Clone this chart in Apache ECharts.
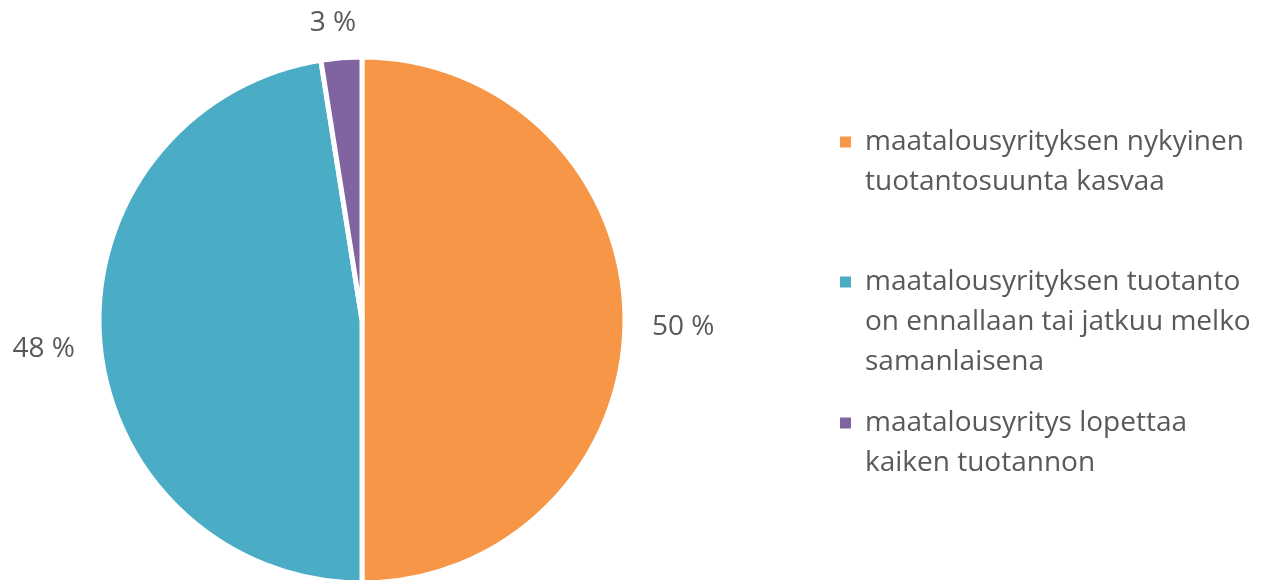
<!DOCTYPE html>
<html>
<head>
<meta charset="utf-8">
<script src="https://cdn.jsdelivr.net/npm/echarts@6/dist/echarts.min.js"></script>
<style>
  html, body { margin: 0; padding: 0; background: #fff; }
  #chart { width: 1274px; height: 580px; }
</style>
</head>
<body>
<div id="chart"></div>
<script>
// osuudet prosentteina
const categories = [
  "maatalousyrityksen nykyinen tuotantosuunta kasvaa",
  "maatalousyrityksen tuotanto on ennallaan tai jatkuu melko samanlaisena",
  "maatalousyritys lopettaa kaiken tuotannon"
];
const legendLines = [
  ["maatalousyrityksen nykyinen", "tuotantosuunta kasvaa"],
  ["maatalousyrityksen tuotanto", "on ennallaan tai jatkuu melko", "samanlaisena"],
  ["maatalousyritys lopettaa", "kaiken tuotannon"]
];
const values = [50, 47.5, 2.5];
const colors = ["#F79646", "#4BACC6", "#8064A2"];

const font = "'Open Sans', sans-serif";
const lineH = 40;
const legendTops = [122, 262, 403];
// pienet siirrot prosenttiteksteille
const labelNudge = [[0, 7], [2, 7], [29, -21]];

// neliö ensimmäisen rivin kohdalle, näkymättömät pisteet venyttävät laatikon koko tekstin korkuiseksi
function iconFor(n) {
  const h = lineH * n;
  const y = lineH / 2 - 5.5;
  return "path://M0,0h0.01M0," + y + "h11v11h-11zM0," + h + "h0.01";
}

const chart = echarts.init(document.getElementById("chart"));
chart.setOption({
  animation: false,
  color: colors,
  legend: categories.map((name, i) => ({
    data: [name],
    left: 840,
    top: legendTops[i],
    padding: 0,
    orient: "vertical",
    icon: iconFor(legendLines[i].length),
    itemWidth: 11,
    itemHeight: lineH * legendLines[i].length,
    itemGap: 0,
    selectedMode: false,
    itemStyle: { borderWidth: 0 },
    formatter: () => legendLines[i].join("\n"),
    textStyle: {
      fontFamily: font,
      fontSize: 28,
      lineHeight: lineH,
      color: "#595959",
      padding: [0, 0, 0, 9]
    }
  })),
  series: [
    {
      type: "pie",
      center: [362, 320],
      radius: 263,
      startAngle: 90,
      clockwise: true,
      itemStyle: { borderColor: "#fff", borderWidth: 5 },
      label: {
        show: true,
        position: "outside",
        overflow: "none",
        formatter: (p) => Math.round(p.value) + " %",
        fontFamily: font,
        fontSize: 28,
        color: "#595959"
      },
      labelLine: { show: false, length: 14, length2: 8 },
      labelLayout: (p) => ({ dx: labelNudge[p.dataIndex][0], dy: labelNudge[p.dataIndex][1] }),
      emphasis: { disabled: true },
      data: categories.map((name, i) => ({ name, value: values[i] }))
    }
  ]
});
</script>
</body>
</html>
